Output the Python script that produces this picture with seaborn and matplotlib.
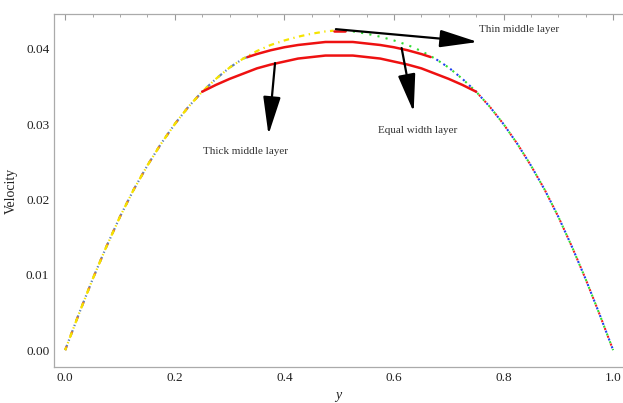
import numpy as np
import pandas as pd
import matplotlib
matplotlib.use('Agg')
import matplotlib.pyplot as plt
import seaborn as sns
from matplotlib.ticker import MultipleLocator

# velocity profile
# left outer layer (same curve for all three cases, different extent)
y_thin_left = [0.0, 0.025, 0.05, 0.075, 0.10, 0.125, 0.15, 0.175, 0.20, 0.225, 0.25,
               0.275, 0.30, 0.325, 0.35, 0.375, 0.40, 0.425, 0.45, 0.475, 0.49]
u_thin_left = [0.0, 0.0048, 0.0094, 0.0137, 0.0177, 0.0213, 0.0245, 0.0274, 0.0300, 0.0323, 0.0343,
               0.0360, 0.0375, 0.0387, 0.0397, 0.0405, 0.0411, 0.0416, 0.0420, 0.0423, 0.0424]
y_equal_left = [0.0, 0.025, 0.05, 0.075, 0.10, 0.125, 0.15, 0.175, 0.20, 0.225, 0.25,
                0.275, 0.30, 0.325, 0.333]
u_equal_left = [0.0, 0.0048, 0.0094, 0.0137, 0.0177, 0.0213, 0.0245, 0.0274, 0.0300, 0.0323, 0.0343,
                0.0360, 0.0375, 0.0387, 0.0389]
y_thick_left = [0.0, 0.025, 0.05, 0.075, 0.10, 0.125, 0.15, 0.175, 0.20, 0.225, 0.25]
u_thick_left = [0.0, 0.0048, 0.0094, 0.0137, 0.0177, 0.0213, 0.0245, 0.0274, 0.0300, 0.0323, 0.0343]

# right outer layer
y_thin_right = [0.51, 0.525, 0.55, 0.575, 0.60, 0.625, 0.65, 0.675, 0.70, 0.725, 0.75,
                0.775, 0.80, 0.825, 0.85, 0.875, 0.90, 0.925, 0.95, 0.975, 1.0]
u_thin_right = [0.0424, 0.0423, 0.0420, 0.0416, 0.0411, 0.0405, 0.0397, 0.0387, 0.0375, 0.0360, 0.0343,
                0.0323, 0.0300, 0.0274, 0.0245, 0.0213, 0.0177, 0.0137, 0.0094, 0.0048, 0.0]
y_equal_right = [0.667, 0.675, 0.70, 0.725, 0.75, 0.775, 0.80, 0.825, 0.85, 0.875, 0.90,
                 0.925, 0.95, 0.975, 1.0]
u_equal_right = [0.0389, 0.0387, 0.0375, 0.0360, 0.0343, 0.0323, 0.0300, 0.0274, 0.0245, 0.0213, 0.0177,
                 0.0137, 0.0094, 0.0048, 0.0]
y_thick_right = [0.75, 0.775, 0.80, 0.825, 0.85, 0.875, 0.90, 0.925, 0.95, 0.975, 1.0]
u_thick_right = [0.0343, 0.0323, 0.0300, 0.0274, 0.0245, 0.0213, 0.0177, 0.0137, 0.0094, 0.0048, 0.0]

# middle layers
y_thick_mid = [0.25, 0.275, 0.30, 0.325, 0.35, 0.375, 0.40, 0.425, 0.45, 0.475, 0.50,
               0.525, 0.55, 0.575, 0.60, 0.625, 0.65, 0.675, 0.70, 0.725, 0.75]
u_thick_mid = [0.0343, 0.0352, 0.0360, 0.0367, 0.0374, 0.0379, 0.0383, 0.0387, 0.0389, 0.0391, 0.0391,
               0.0391, 0.0389, 0.0387, 0.0383, 0.0379, 0.0374, 0.0367, 0.0360, 0.0352, 0.0343]
y_equal_mid = [0.333, 0.35, 0.375, 0.40, 0.425, 0.45, 0.475, 0.50,
               0.525, 0.55, 0.575, 0.60, 0.625, 0.65, 0.667]
u_equal_mid = [0.0389, 0.0393, 0.0398, 0.0402, 0.0405, 0.0407, 0.0409, 0.0409,
               0.0409, 0.0407, 0.0405, 0.0402, 0.0398, 0.0393, 0.0389]
y_thin_mid = [0.49, 0.51]
u_thin_mid = [0.0424, 0.0424]

sns.set_style('white')
plt.rcParams['font.family'] = ['Liberation Serif', 'DejaVu Serif']

fig = plt.figure(figsize=(6.23, 4.03), dpi=100)
ax = fig.add_axes([0.087, 0.090, 0.913, 0.875])

# outer layers, left side (dash-dot patterns share one period)
sns.lineplot(x=y_equal_left, y=u_equal_left, ax=ax, color='#5E81B5', lw=1.6,
             linestyle=(0, (2.5, 2, 0.6, 2)))
sns.lineplot(x=y_thick_left, y=u_thick_left, ax=ax, color='#F07F22', lw=1.6,
             linestyle=(0.6, (2.5, 4.6)))
sns.lineplot(x=y_thin_left, y=u_thin_left, ax=ax, color='#F5E400', lw=1.6,
             linestyle=(1.2, (2.5, 2, 0.6, 2)))

# outer layers, right side (dotted)
sns.lineplot(x=y_thin_right, y=u_thin_right, ax=ax, color='#33DD33', lw=1.5,
             linestyle=(0, (1, 3)))
sns.lineplot(x=y_equal_right, y=u_equal_right, ax=ax, color='#2040F0', lw=1.5,
             linestyle=(1, (1, 3)))
sns.lineplot(x=y_thick_right, y=u_thick_right, ax=ax, color='#F02020', lw=1.5,
             linestyle=(2, (1, 3)))

# middle layers
sns.lineplot(x=y_thick_mid, y=u_thick_mid, ax=ax, color='#EE1111', lw=1.8)
sns.lineplot(x=y_equal_mid, y=u_equal_mid, ax=ax, color='#EE1111', lw=1.8)
sns.lineplot(x=y_thin_mid, y=u_thin_mid, ax=ax, color='#EE1111', lw=1.8)

arrow = dict(arrowstyle='-|>,head_length=1.3,head_width=0.3', color='black',
             lw=1.6, mutation_scale=18, shrinkA=0, shrinkB=0)
ax.annotate('', xy=(0.753, 0.0409), xytext=(0.494, 0.0426), arrowprops=arrow)
ax.annotate('', xy=(0.636, 0.0316), xytext=(0.614, 0.0401), arrowprops=arrow)
ax.annotate('', xy=(0.371, 0.0286), xytext=(0.383, 0.0381), arrowprops=arrow)

tcol = '#333333'
ax.text(0.756, 0.0426, 'Thin middle layer', fontsize=8, color=tcol, va='center', ha='left')
ax.text(0.644, 0.0292, 'Equal width layer', fontsize=8, color=tcol, va='center', ha='center')
ax.text(0.330, 0.0263, 'Thick middle layer', fontsize=8, color=tcol, va='center', ha='center')

ax.set_xlim(-0.02, 1.018)
ax.set_ylim(-0.0022, 0.0446)
ax.xaxis.set_major_locator(MultipleLocator(0.2))
ax.xaxis.set_minor_locator(MultipleLocator(0.05))
ax.yaxis.set_major_locator(MultipleLocator(0.01))
ax.yaxis.set_minor_locator(MultipleLocator(0.0025))
ax.xaxis.set_major_formatter(plt.FuncFormatter(lambda v, p: f'{v:.1f}'))
ax.yaxis.set_major_formatter(plt.FuncFormatter(lambda v, p: f'{v:.2f}'))
ax.tick_params(which='both', direction='in', top=True, right=False, colors='#999999',
               labelcolor='#222222', labelsize=9.5)
ax.tick_params(which='major', length=4, width=0.8)
ax.tick_params(which='minor', length=2, width=0.6)
for side in ['left', 'bottom', 'top']:
    ax.spines[side].set_color('#aaaaaa')
    ax.spines[side].set_linewidth(0.9)
ax.spines['right'].set_visible(False)

ax.set_xlabel('y', fontsize=10, style='italic', color='#222222', labelpad=4)
ax.set_ylabel('Velocity', fontsize=10, color='#222222', labelpad=6)

fig.savefig('out.png', dpi=100)
